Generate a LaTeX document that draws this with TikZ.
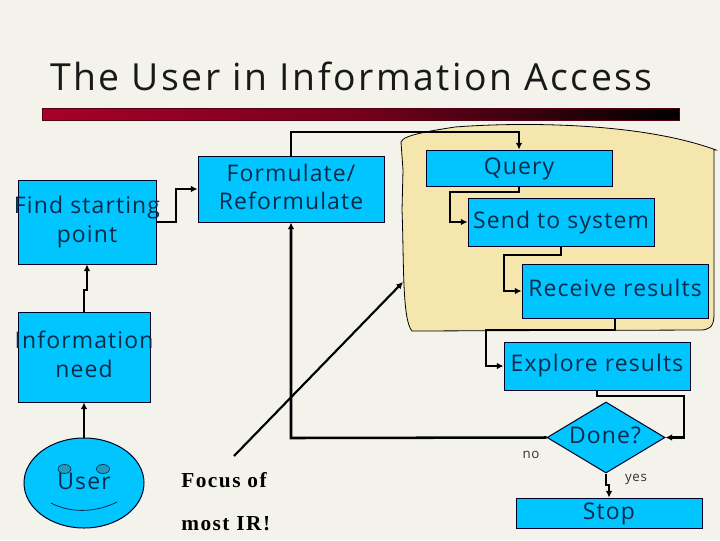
\documentclass[tikz,border=0pt]{standalone}
\usepackage{fontspec}
\usetikzlibrary{shapes.geometric,arrows.meta}
\setmainfont{Open Sans}[LetterSpace=5]
\newfontfamily\titlefont{Open Sans}[LetterSpace=6.7]
\newfontfamily\focusfont{Liberation Serif}[LetterSpace=7]
\definecolor{bg}{HTML}{F3F2EB}
\definecolor{boxblue}{HTML}{00C5FF}
\definecolor{ink}{HTML}{0B2A4A}
\definecolor{blob}{HTML}{F5E6AE}
\definecolor{eye}{HTML}{1E9CC0}
\definecolor{barred}{HTML}{A80028}
\tikzset{
  fbox/.style={draw=black!85!blue,line width=0.75pt,fill=boxblue,text=ink,inner sep=0pt},
  lbl/.style={text=ink,align=center,font=\fontsize{17.2}{21.5}\selectfont,inner sep=0pt},
  link/.style={draw=black,line width=1.9pt,-{Latex[length=5pt,width=5pt]}},
  small/.style={font=\fontsize{10}{12}\selectfont,text=black!80},
  focus/.style={font=\focusfont\bfseries\fontsize{16}{19}\selectfont,text=black,anchor=west,inner sep=0pt}
}
\begin{document}
\begin{tikzpicture}[x=0.75pt,y=-0.75pt]
\useasboundingbox (0,0) rectangle (720,540);
\fill[bg] (0,0) rectangle (720,540);
\node[anchor=base west,inner sep=0pt,font=\titlefont\fontsize{28}{32}\selectfont,text=black!90] (title) at (50,90) {The User in Information Access};
\shade[left color=barred,right color=black,middle color=barred!70!black] (42,108) rectangle (679,120);
\draw[black!50!barred,line width=0.5pt] (42,108) rectangle (679,120);
\draw[black,line width=0.6pt,fill=blob] (401,142) .. controls (403,135) and (430,131) .. (455,127) .. controls (520,122) and (640,122) .. (716,150) -- (714,150) -- (714,315) .. controls (714,328) and (708,330) .. (700,330) -- (412,331) .. controls (402,320) and (404,260) .. (402,210) -- (403,170) -- cycle;
\node[fbox,minimum width=103.5pt,minimum height=63pt] (find) at (87,222) {};
\node[fbox,minimum width=139.5pt,minimum height=49.5pt] (form) at (291,189) {};
\node[fbox,minimum width=139.5pt,minimum height=27pt] (query) at (519,168) {};
\node[fbox,minimum width=139.5pt,minimum height=36pt] (send) at (561,222) {};
\node[fbox,minimum width=139.5pt,minimum height=40.5pt] (recv) at (615,291) {};
\node[fbox,minimum width=139.5pt,minimum height=36pt] (expl) at (597,366) {};
\node[fbox,minimum width=99pt,minimum height=67.5pt] (need) at (84,357) {};
\node[fbox,minimum width=139.5pt,minimum height=22.5pt] (stop) at (609,513) {};
\node[fbox,diamond,aspect=1.66,minimum width=88.5pt,minimum height=53.25pt] (done) at (606,437.5) {};
\node[fbox,ellipse,minimum width=90pt,minimum height=67.5pt] (user) at (84,483) {};
\node[lbl] (findt) at (87,222) {Find starting\\point};
\node[lbl] (formt) at (291,187) {Formulate/\\Reformulate};
\node[lbl] (queryt) at (519,169) {Query};
\node[lbl] (sendt) at (561,223) {Send to system};
\node[lbl] (recvt) at (615,288) {Receive results};
\node[lbl] (explt) at (597,366) {Explore results};
\node[lbl] (needt) at (84,354) {Information\\need};
\node[lbl] (stopt) at (609,514) {Stop};
\node[lbl] (donet) at (605,435) {Done?};
\node[lbl] (usert) at (84,481) {User};
\draw[ink,line width=0.5pt,fill=eye] (64.5,469) ellipse [x radius=6.5,y radius=-4.5];
\draw[ink,line width=0.5pt,fill=eye] (103,469) ellipse [x radius=6.5,y radius=-4.5];
\draw[ink,line width=0.6pt] (51,503) .. controls (70,513) and (95,513) .. (117,502);
\node[small] (no) at (531,455) {no};
\node[small] (yes) at (636,479) {yes};
\node[focus] (f1) at (181,480) {Focus of};
\node[focus] (f2) at (181,524) {most IR!};
\coordinate (fa) at (234,456);
\coordinate (fb) at (403,282);
\draw[black,line width=1.6pt,-{Latex[length=5pt,width=5pt]}] (fa) -- (fb);
\draw[link] (find.east) -- (176,222) -- (176,189) -- (form.west);
\draw[link] (need.north) -- (84,290) -- (87,290) -- (find.south);
\draw[link] (user.north) -- (need.south);
\draw[link] (form.north) -- (291,132) -- (519,132) -- (query.north);
\draw[link] (query.south) -- (519,192) -- (450,192) -- (450,222) -- (send.west);
\draw[link] (send.south) -- (561,255) -- (504,255) -- (504,291) -- (recv.west);
\draw[link] (recv.south) -- (615,330) -- (486,330) -- (486,366) -- (expl.west);
\draw[link] (expl.south) -- (597,396) -- (684,396) -- (684,437.5) -- (done.east);
\draw[link] (done.west) -- (291,438) -- (form.south);
\draw[link] (done.south) -- (606,485) -- (609,485) -- (stop.north);
\end{tikzpicture}
\end{document}
